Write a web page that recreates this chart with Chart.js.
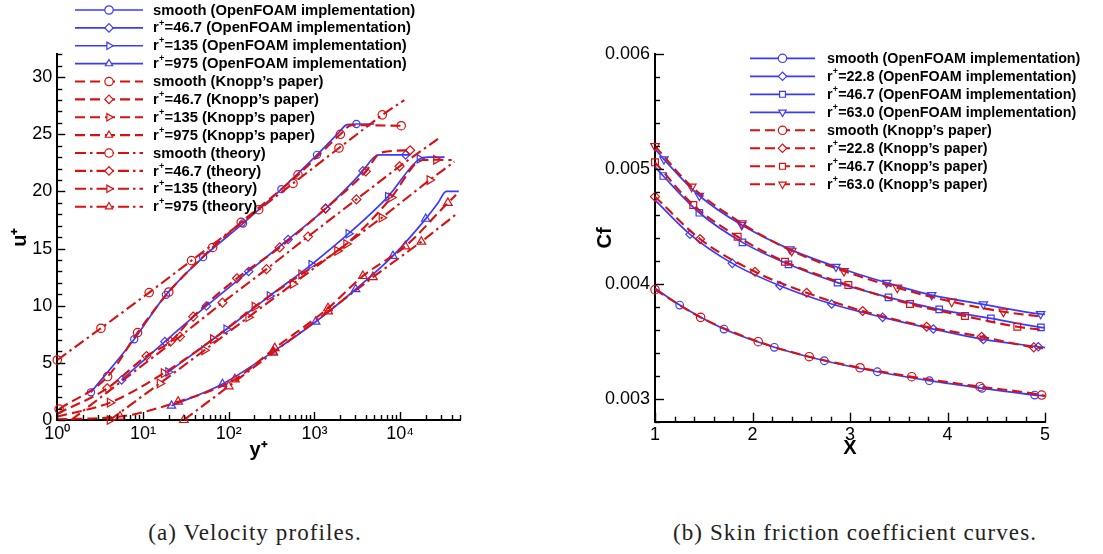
<!DOCTYPE html>
<html><head><meta charset="utf-8">
<script src="https://cdn.jsdelivr.net/npm/chart.js@4/dist/chart.umd.min.js"></script>
<style>
body{margin:0;background:#fff;width:1103px;height:554px;overflow:hidden;position:relative;}
#wa{position:absolute;left:0;top:0;width:540px;height:480px;}
#wb{position:absolute;left:560px;top:0;width:543px;height:480px;}
.cap{position:absolute;top:519px;font-family:"Liberation Serif","Times New Roman",serif;font-size:23px;line-height:28px;letter-spacing:1.1px;color:#222;white-space:nowrap;transform:translateX(-50%);}
</style></head><body>
<div id="wa"><canvas id="ca" width="540" height="480"></canvas></div>
<div id="wb"><canvas id="cb" width="543" height="480"></canvas></div>
<div class="cap" style="left:255px">(a) Velocity profiles.</div>
<div class="cap" style="left:855px">(b) Skin friction coefficient curves.</div>
<script>
// ================= Panel (a): velocity profiles  (x = y+, y = u+) =================
const aLabels = [
  'smooth (OpenFOAM implementation)', 'r⁺=46.7 (OpenFOAM implementation)',
  'r⁺=135 (OpenFOAM implementation)', 'r⁺=975 (OpenFOAM implementation)',
  "smooth (Knopp’s paper)", "r⁺=46.7 (Knopp’s paper)", "r⁺=135 (Knopp’s paper)", "r⁺=975 (Knopp’s paper)",
  'smooth (theory)', 'r⁺=46.7 (theory)', 'r⁺=135 (theory)', 'r⁺=975 (theory)'
];
// line-only points and symbol points, [y+, u+]
const a_smoothOF_line = [[1900,25.1],[2400,25.85],[5000,25.9]];
const a_smoothOF_sym  = [[2.47,2.42],[7.9,7.07],[18.5,10.95],[50.3,14.25],[147,17.2],[412,20.2],[1072,23.2],[3090,25.9]];
const a_r47OF_line    = [[4820,22.9],[5750,23.2],[13000,23.2]];
const a_r47OF_sym     = [[5.63,3.5],[18,6.86],[55,9.98],[171,13.0],[493,15.8],[1350,18.5],[3680,21.8],[11600,23.2]];
const a_r135OF_line   = [[21000,23.0],[33000,23.0]];
const a_r135OF_sym    = [[19.7,4.2],[94,7.94],[301,10.86],[923,13.6],[2500,16.3],[7230,19.55],[16900,22.85]];
const a_r975OF_line   = [[27700,19.0],[34600,20.0],[48400,20.0]];
const a_r975OF_sym    = [[21.5,1.25],[84.7,3.15],[330,5.98],[1036,8.6],[3030,11.44],[8240,14.36],[19900,17.6]];

const a_smoothKP_line = [[2700,25.8]];
const a_smoothKP_sym  = [[1.05,0.96],[3.87,3.8],[8.65,7.65],[20,11.2],[65,15.1],[140,17.3],[644,21.45],[2010,25.0],[10300,25.75]];
const a_r47KP_line    = [[1.0,0.55],[6000,23.4]];
const a_r47KP_sym     = [[3.83,2.78],[11,5.6],[21,6.86],[38.5,9.05],[125,12.4],[394,15.1],[1350,18.5],[3980,21.75],[13100,23.6]];
const a_r135KP_line   = [[1.0,0.3],[15500,22.5],[18500,22.75],[40000,22.75]];
const a_r135KP_sym    = [[4.11,1.52],[17.5,4.1],[65.8,7.07],[201,9.92],[705,12.75],[2360,15.4],[7890,19.47],[26400,22.77]];
const a_r975KP_line   = [[1.0,0.07],[45000,19.7]];
const a_r975KP_sym    = [[5.4,0.3],[25.7,1.6],[118,3.56],[345,6.28],[1442,9.78],[3680,12.6],[11500,15.2],[36100,19.0]];

const a_smoothTH_line = [[11200,28.0]];
const a_smoothTH_sym  = [[1,5.25],[3.23,8.03],[11.8,11.15],[36.8,13.95],[224,18.4],[563,20.7],[1936,23.8],[6200,26.7]];
const a_r47TH_line    = [[1.45,0],[27700,24.6]];
const a_r47TH_sym     = [[27,7.3],[84.6,10.27],[276,13.2],[842,16.05],[3090,19.3],[9860,22.2]];
const a_r135TH_line   = [[43000,22.6]];
const a_r135TH_sym    = [[4.1,0],[15.7,3.2],[52,6.1],[170,9.0],[560,11.9],[1850,14.8],[6100,17.7],[22100,21.0]];
const a_r975TH_line   = [[45000,18.0]];
const a_r975TH_sym    = [[30,0],[100,2.95],[330,5.9],[1450,9.5],[4820,12.5],[17700,15.6]];

const aXTickLabels = ['10⁰','10¹','10²','10³','10⁴'];

// ================= Panel (b): skin friction  (x = X, y = Cf) =================
const bLabels = [
  'smooth (OpenFOAM implementation)', 'r⁺=22.8 (OpenFOAM implementation)',
  'r⁺=46.7 (OpenFOAM implementation)', 'r⁺=63.0 (OpenFOAM implementation)',
  "smooth (Knopp’s paper)", "r⁺=22.8 (Knopp’s paper)", "r⁺=46.7 (Knopp’s paper)", "r⁺=63.0 (Knopp’s paper)"
];
const b_smoothOF_line = [[1,0.003962],[5,0.003024]];
const b_smoothOF_sym  = [[1.253,0.003816],[1.708,0.003607],[2.224,0.003448],[2.737,0.003331],[3.281,0.003235],[3.814,0.003157],[4.354,0.003091],[4.894,0.003032]];
const b_r23OF_line    = [[1,0.00473],[5,0.003446]];
const b_r23OF_sym     = [[1.359,0.004432],[1.793,0.004179],[2.282,0.003984],[2.812,0.003825],[3.335,0.003709],[3.855,0.003607],[4.367,0.003517],[4.931,0.003453]];
const b_r47OF_line    = [[1,0.00502],[5,0.003618]];
const b_r47OF_sym     = [[1.085,0.00494],[1.455,0.00462],[1.897,0.004362],[2.369,0.004171],[2.872,0.004011],[3.395,0.003883],[3.915,0.003779],[4.445,0.0037],[4.958,0.003622]];
const b_r63OF_line    = [[1,0.005175],[5,0.003735]];
const b_r63OF_sym     = [[1.092,0.005085],[1.455,0.004768],[1.89,0.004513],[2.385,0.004301],[2.856,0.00415],[3.376,0.00401],[3.838,0.003903],[4.368,0.003822],[4.955,0.003738]];

const b_smoothKP_line = [[5,0.003025]];
const b_smoothKP_sym  = [[1.0,0.00395],[1.468,0.003709],[2.059,0.003497],[2.582,0.003366],[3.103,0.00327],[3.633,0.003192],[4.333,0.003105],[4.966,0.003032]];
const b_r23KP_line    = [[4.98,0.00344]];
const b_r23KP_sym     = [[1,0.00476],[1.462,0.004391],[2.026,0.004106],[2.556,0.003923],[3.13,0.003764],[3.786,0.003627],[4.35,0.00354],[4.885,0.003448]];
const b_r47KP_line    = [[5,0.003598]];
const b_r47KP_sym     = [[1,0.005059],[1.393,0.004687],[1.848,0.004411],[2.333,0.004193],[2.983,0.00399],[3.615,0.003825],[4.179,0.00372],[4.716,0.003627]];
const b_r63KP_line    = [[4.98,0.003714]];
const b_r63KP_sym     = [[1.0,0.0052],[1.376,0.004847],[1.89,0.004528],[2.402,0.004289],[2.938,0.004112],[3.485,0.003967],[4.043,0.003845],[4.573,0.003758]];

// ================= styling & helpers =================
const BLUE = '#3a3aff', RED = '#d81010';
const FONT = '"Liberation Sans", Arial, Helvetica, sans-serif';
const DASH = [10,5], DASHDOT = [11,4,2.5,4];

function merge(line, sym) {
  const pts = line.map(p => ({x:p[0], y:p[1], s:false})).concat(sym.map(p => ({x:p[0], y:p[1], s:true})));
  pts.sort((a,b) => a.x - b.x);
  return pts;
}
function ds(label, line, sym, kind, style, rot, r) {
  const col = kind === 'of' ? BLUE : RED;
  return {
    label, data: merge(line, sym),
    borderColor: col, backgroundColor: 'rgba(0,0,0,0)',
    borderWidth: kind === 'of' ? 1.7 : 2.1,
    borderDash: kind === 'kp' ? DASH : (kind === 'th' ? DASHDOT : []),
    pointStyle: style, pointRotation: rot,
    pointRadius: c => (c.raw && c.raw.s ? r : 0), pointHoverRadius: 0,
    pointBorderColor: col, pointBackgroundColor: 'rgba(0,0,0,0)', pointBorderWidth: 1.2,
    cubicInterpolationMode: kind === 'th' ? 'default' : 'monotone', tension: 0,
    order: kind === 'of' ? 3 : (kind === 'kp' ? 2 : 1), clip: false, fill: false
  };
}

function drawSupText(ctx, text, x, y, size) {
  const parts = text.split('⁺');
  let cx = x;
  parts.forEach((p, i) => {
    ctx.font = `bold ${size}px ${FONT}`;
    ctx.fillText(p, cx, y);
    cx += ctx.measureText(p).width;
    if (i < parts.length - 1) {
      ctx.font = `bold ${size*0.62}px ${FONT}`;
      ctx.fillText('+', cx + 0.2, y - size*0.36);
      cx += ctx.measureText('+').width + 0.5;
    }
  });
}

const legendPlugin = {
  id: 'inLegend',
  afterDraw(chart, args, o) {
    const ctx = chart.ctx;
    ctx.save();
    chart.data.datasets.forEach((d, i) => {
      const y = o.y0 + i * o.dy;
      ctx.strokeStyle = d.borderColor; ctx.lineWidth = d.borderWidth;
      ctx.setLineDash(d.borderDash);
      ctx.beginPath(); ctx.moveTo(o.x0, y); ctx.lineTo(o.x1, y); ctx.stroke();
      ctx.setLineDash([]);
      ctx.lineWidth = d.pointBorderWidth; ctx.fillStyle = '#fff';
      const xm = (o.x0 + o.x1) / 2;
      ctx.beginPath();
      Chart.helpers.drawPoint(ctx, {pointStyle: d.pointStyle, rotation: d.pointRotation, radius: o.r, borderWidth: d.pointBorderWidth}, xm, y);
      ctx.fillStyle = '#000'; ctx.textBaseline = 'middle'; ctx.textAlign = 'left';
      drawSupText(ctx, d.label, o.tx, y + 0.5, o.size);
    });
    ctx.restore();
  }
};

function isMajorLog(v){ const e = Math.log10(v); return Math.abs(e - Math.round(e)) < 1e-9; }
function isIntSig(v){ const s = v / Math.pow(10, Math.floor(Math.log10(v) + 1e-9)); return Math.abs(s - Math.round(s)) < 1e-6; }

const tickPlugin = {
  id: 'inTicks',
  afterDraw(chart, args, o) {
    const ctx = chart.ctx, ca = chart.chartArea;
    ctx.save(); ctx.strokeStyle = '#000'; ctx.lineWidth = 1.4;
    const xs = chart.scales.x, ys = chart.scales.y;
    xs.ticks.forEach(t => {
      const v = t.value;
      if (o.xlog && !isIntSig(v)) return;
      const maj = o.xMajor(v);
      const px = Math.round(xs.getPixelForValue(v)) + 0.5;
      ctx.beginPath(); ctx.moveTo(px, ca.bottom); ctx.lineTo(px, ca.bottom - (maj ? o.maj : o.min)); ctx.stroke();
    });
    ys.ticks.forEach(t => {
      const v = t.value;
      const maj = o.yMajor(v);
      const py = Math.round(ys.getPixelForValue(v)) + 0.5;
      ctx.beginPath(); ctx.moveTo(ca.left, py); ctx.lineTo(ca.left + (maj ? o.maj : o.min), py); ctx.stroke();
    });
    ctx.restore();
  }
};

const tickFont = {family: FONT, size: 18};
const titleFont = {family: FONT, size: 20, weight: 'bold'};
function axisBase() {
  return {
    grid: {display: true, drawOnChartArea: false, drawTicks: false},
    border: {display: true, color: '#000', width: 2}
  };
}

// ---------- chart (a) ----------
const dsA = [
  ds(aLabels[0], a_smoothOF_line, a_smoothOF_sym, 'of', 'circle', 0, 3.6),
  ds(aLabels[1], a_r47OF_line, a_r47OF_sym, 'of', 'rectRot', 0, 4.2),
  ds(aLabels[2], a_r135OF_line, a_r135OF_sym, 'of', 'triangle', 90, 4.8),
  ds(aLabels[3], a_r975OF_line, a_r975OF_sym, 'of', 'triangle', 0, 4.8),
  ds(aLabels[4], a_smoothKP_line, a_smoothKP_sym, 'kp', 'circle', 0, 4.2),
  ds(aLabels[5], a_r47KP_line, a_r47KP_sym, 'kp', 'rectRot', 0, 4.5),
  ds(aLabels[6], a_r135KP_line, a_r135KP_sym, 'kp', 'triangle', 90, 5),
  ds(aLabels[7], a_r975KP_line, a_r975KP_sym, 'kp', 'triangle', 0, 5),
  ds(aLabels[8], a_smoothTH_line, a_smoothTH_sym, 'th', 'circle', 0, 4.2),
  ds(aLabels[9], a_r47TH_line, a_r47TH_sym, 'th', 'rectRot', 0, 4.5),
  ds(aLabels[10], a_r135TH_line, a_r135TH_sym, 'th', 'triangle', 90, 5),
  ds(aLabels[11], a_r975TH_line, a_r975TH_sym, 'th', 'triangle', 0, 5)
];

new Chart(document.getElementById('ca'), {
  type: 'line',
  data: {datasets: dsA},
  options: {
    responsive: false, animation: false, devicePixelRatio: 1,
    layout: {padding: {left: 4, right: 80, top: 54.3, bottom: 16}},
    plugins: {
      legend: {display: false}, tooltip: {enabled: false},
      inLegend: {x0: 75, x1: 143, tx: 153, y0: 10, dy: 17.88, size: 14.8, r: 4.2},
      inTicks: {xlog: true, xMajor: isMajorLog, yMajor: v => v % 5 === 0, maj: 8, min: 5}
    },
    scales: {
      x: Object.assign(axisBase(), {
        type: 'logarithmic', min: 1, max: 50000, position: 'bottom',
        afterFit: s => { s.height = 44; },
        ticks: {autoSkip: false, maxRotation: 0, minRotation: 0, padding: 3, color: '#000', font: tickFont,
          callback: v => isMajorLog(v) ? aXTickLabels[Math.round(Math.log10(v))] : ''},
        title: {display: true, text: 'y⁺', color: '#000', font: titleFont, padding: {top: 0, bottom: 2}}
      }),
      y: Object.assign(axisBase(), {
        type: 'linear', min: 0, max: 32, position: 'left',
        afterFit: s => { s.width = 53.3; },
        ticks: {stepSize: 1, autoSkip: false, padding: 5, color: '#000', font: tickFont,
          callback: v => (v % 5 === 0 ? String(v) : '')},
        title: {display: true, text: 'u⁺', color: '#000', font: titleFont, padding: {top: 4, bottom: 0}}
      })
    }
  },
  plugins: [tickPlugin, legendPlugin]
});

// ---------- chart (b) ----------
const dsB = [
  ds(bLabels[0], b_smoothOF_line, b_smoothOF_sym, 'of', 'circle', 0, 3.8),
  ds(bLabels[1], b_r23OF_line, b_r23OF_sym, 'of', 'rectRot', 0, 4.2),
  ds(bLabels[2], b_r47OF_line, b_r47OF_sym, 'of', 'rect', 0, 4.6),
  ds(bLabels[3], b_r63OF_line, b_r63OF_sym, 'of', 'triangle', 180, 4.8),
  ds(bLabels[4], b_smoothKP_line, b_smoothKP_sym, 'kp', 'circle', 0, 4.2),
  ds(bLabels[5], b_r23KP_line, b_r23KP_sym, 'kp', 'rectRot', 0, 4.5),
  ds(bLabels[6], b_r47KP_line, b_r47KP_sym, 'kp', 'rect', 0, 4.8),
  ds(bLabels[7], b_r63KP_line, b_r63KP_sym, 'kp', 'triangle', 180, 5)
];

new Chart(document.getElementById('cb'), {
  type: 'line',
  data: {datasets: dsB},
  options: {
    responsive: false, animation: false, devicePixelRatio: 1,
    layout: {padding: {left: 29, right: 58, top: 54.3, bottom: 16}},
    plugins: {
      legend: {display: false}, tooltip: {enabled: false},
      inLegend: {x0: 190, x1: 255, tx: 267, y0: 58.3, dy: 18.0, size: 14.3, r: 4.2},
      inTicks: {xlog: false, xMajor: v => Math.abs(v - Math.round(v)) < 1e-6,
        yMajor: v => Math.abs(v * 1000 - Math.round(v * 1000)) < 1e-6, maj: 9, min: 5}
    },
    scales: {
      x: Object.assign(axisBase(), {
        type: 'linear', min: 1, max: 5, position: 'bottom',
        afterFit: s => { s.height = 42.3; },
        ticks: {stepSize: 0.2, autoSkip: false, maxRotation: 0, minRotation: 0, padding: 3, color: '#000', font: tickFont,
          callback: v => (Math.abs(v - Math.round(v)) < 1e-6 ? String(Math.round(v)) : '')},
        title: {display: true, text: 'X', color: '#000', font: titleFont, padding: {top: 0, bottom: 4}}
      }),
      y: Object.assign(axisBase(), {
        type: 'linear', min: 0.0028, max: 0.006, position: 'left',
        afterFit: s => { s.width = 66; },
        ticks: {stepSize: 0.0002, autoSkip: false, padding: 5, color: '#000', font: tickFont,
          callback: v => (Math.abs(v * 1000 - Math.round(v * 1000)) < 1e-6 ? v.toFixed(3) : '')},
        title: {display: true, text: 'Cf', color: '#000', font: titleFont, padding: {top: 4, bottom: 0}}
      })
    }
  },
  plugins: [tickPlugin, legendPlugin]
});
</script>
</body></html>
